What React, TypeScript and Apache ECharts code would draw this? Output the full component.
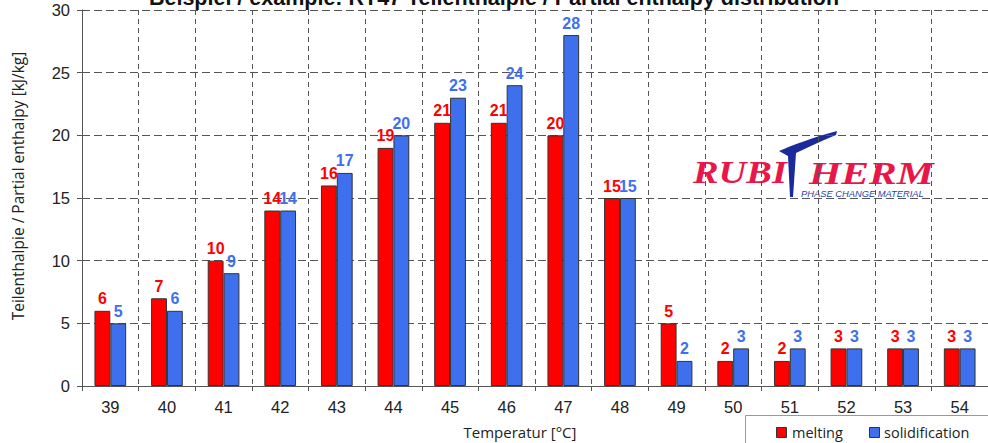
import React, { useEffect, useRef } from "react";
import * as echarts from "echarts";

const categories = ["39", "40", "41", "42", "43", "44", "45", "46", "47", "48", "49", "50", "51", "52", "53", "54"];
const melting = [6, 7, 10, 14, 16, 19, 21, 21, 20, 15, 5, 2, 2, 3, 3, 3];
const solidification = [5, 6, 9, 14, 17, 20, 23, 24, 28, 15, 2, 3, 3, 3, 3, 3];
const yTicks = { min: 0, max: 30, interval: 5 };

const TITLE = "Beispiel / example: RT47 Teilenthalpie / Partial enthalpy distribution";
const Y_NAME = "Teilenthalpie / Partial enthalpy [kJ/kg]";
const X_NAME = "Temperatur [°C]";
const LEGEND_NAMES = ["melting", "solidification"];

const RED = "#ff0000";
const BLUE = "#3e70ee";

let registered = false;
function registerLogo() {
  if (registered) return;
  registered = true;
  const d =
    "M0,20 C12,15 34,6 58,0 L57,4 C42,10 30,16 17,22 L14,66 L11,66 L9,25 C6,23 3,22 0,20 Z";
  echarts.graphic.registerShape("logoT", echarts.graphic.extendPath(d, {}) as any);
}

export default function App() {
  const ref = useRef<HTMLDivElement>(null);
  useEffect(() => {
    if (!ref.current) return;
    registerLogo();
    const chart = echarts.init(ref.current, undefined, { renderer: "svg" });
    const axisFont = { fontFamily: "Liberation Sans, Arial, sans-serif", fontSize: 16.5, color: "#222" };
    const labelFont = { fontFamily: "Liberation Sans, Arial, sans-serif", fontSize: 16, fontWeight: "bold" as const };
    const legendFont = { fontFamily: "Open Sans, Liberation Sans, sans-serif", fontSize: 14.5, fill: "#222" };
    chart.setOption({
      animation: false,
      backgroundColor: "#fff",
      grid: { left: 82, top: 10, width: 926, height: 376, containLabel: false },
      legend: { show: false },
      xAxis: {
        type: "category",
        data: categories,
        axisLine: { lineStyle: { color: "#555", width: 1 } },
        axisTick: { show: true, length: 5, lineStyle: { color: "#555" } },
        axisLabel: { ...axisFont, margin: 12 },
        splitLine: { show: true, lineStyle: { color: "#555", type: [5, 4], width: 1 } },
      },
      yAxis: {
        type: "value",
        min: yTicks.min,
        max: yTicks.max,
        interval: yTicks.interval,
        axisLine: { show: true, lineStyle: { color: "#555", width: 1 } },
        axisTick: { show: true, length: 5, lineStyle: { color: "#555" } },
        axisLabel: { ...axisFont, margin: 12 },
        splitLine: { show: true, lineStyle: { color: "#555", type: [8, 4], width: 1 } },
      },
      series: [
        {
          name: LEGEND_NAMES[0],
          type: "bar",
          data: melting,
          barGap: "0%",
          barCategoryGap: "44%",
          itemStyle: { color: RED, borderColor: "#333", borderWidth: 1 },
          label: { show: true, position: "top", distance: 4, color: RED, ...labelFont },
        },
        {
          name: LEGEND_NAMES[1],
          type: "bar",
          data: solidification,
          barGap: "0%",
          barCategoryGap: "44%",
          itemStyle: { color: BLUE, borderColor: "#333", borderWidth: 1 },
          label: { show: true, position: "top", distance: 4, color: BLUE, ...labelFont },
        },
      ],
      graphic: [
        {
          type: "text",
          x: 494,
          y: 9,
          style: {
            text: TITLE,
            fontFamily: "Liberation Sans, Arial, sans-serif",
            fontSize: 21.5,
            fontWeight: "bold",
            fill: "#111",
            align: "center",
            verticalAlign: "bottom",
          },
        },
        {
          type: "text",
          x: 520,
          y: 432,
          style: {
            text: X_NAME,
            fontFamily: "Open Sans, Liberation Sans, sans-serif",
            fontSize: 15,
            fill: "#222",
            align: "center",
            verticalAlign: "middle",
          },
        },
        {
          type: "text",
          x: 18,
          y: 186,
          rotation: Math.PI / 2,
          style: {
            text: Y_NAME,
            fontFamily: "Open Sans, Liberation Sans, sans-serif",
            fontSize: 15.5,
            fill: "#222",
            align: "center",
            verticalAlign: "middle",
          },
        },
        // legend box
        {
          type: "rect",
          shape: { x: 745.5, y: 415.5, width: 260, height: 40 },
          style: { fill: "#fff", stroke: "#999", lineWidth: 1 },
        },
        {
          type: "rect",
          shape: { x: 776.5, y: 427.5, width: 10, height: 10 },
          style: { fill: RED, stroke: "#333", lineWidth: 1 },
        },
        {
          type: "text",
          x: 792,
          y: 432,
          style: { text: LEGEND_NAMES[0], ...legendFont, verticalAlign: "middle" },
        },
        {
          type: "rect",
          shape: { x: 869.5, y: 427.5, width: 10, height: 10 },
          style: { fill: BLUE, stroke: "#333", lineWidth: 1 },
        },
        {
          type: "text",
          x: 884,
          y: 432,
          style: { text: LEGEND_NAMES[1], ...legendFont, verticalAlign: "middle" },
        },
        // logo
        {
          type: "text",
          x: 693,
          y: 189,
          scaleX: 1.2,
          style: {
            text: "RUBI",
            fontFamily: "Liberation Serif, serif",
            fontStyle: "italic",
            fontWeight: "bold",
            fontSize: 32,
            fill: "#e8174a",
            verticalAlign: "bottom",
          },
        },
        {
          type: "text",
          x: 809,
          y: 189,
          scaleX: 1.3,
          style: {
            text: "HERM",
            fontFamily: "Liberation Serif, serif",
            fontStyle: "italic",
            fontWeight: "bold",
            fontSize: 32,
            fill: "#e8174a",
            verticalAlign: "bottom",
          },
        },
        {
          type: "logoT",
          x: 779,
          y: 131,
          style: { fill: "#1a2a9a" },
        },
        {
          type: "text",
          x: 801,
          y: 194,
          scaleX: 1.1,
          style: {
            text: "PHASE CHANGE MATERIAL",
            fontFamily: "Liberation Sans, Arial, sans-serif",
            fontStyle: "italic",
            fontSize: 8.5,
            fill: "#2a3fa8",
            verticalAlign: "middle",
          },
        },
      ],
    });
    return () => chart.dispose();
  }, []);
  return (
    <div
      ref={ref}
      style={{ position: "fixed", left: 0, top: 0, width: 988, height: 443 }}
    />
  );
}
